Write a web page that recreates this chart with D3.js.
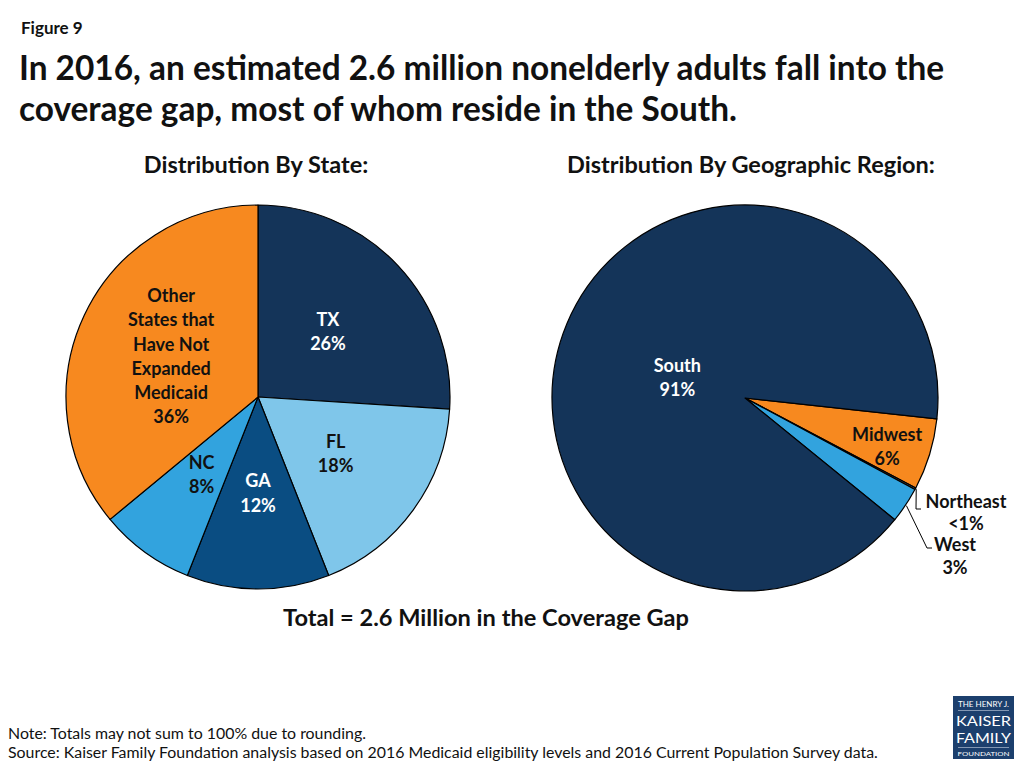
<!DOCTYPE html>
<html>
<head>
<meta charset="utf-8">
<script src="https://cdn.jsdelivr.net/npm/d3@7"></script>
<style>
  html, body { margin: 0; padding: 0; background: #ffffff; }
  svg text { font-family: Lato, "Open Sans", sans-serif; }
</style>
</head>
<body>
<svg id="chart" width="1024" height="768"></svg>
<script>
// ---- data ----
const stateNames  = ["TX", "FL", "GA", "NC", "Other States that Have Not Expanded Medicaid"];
const stateLines  = [["TX"], ["FL"], ["GA"], ["NC"], ["Other", "States that", "Have Not", "Expanded", "Medicaid"]];
const stateValues = [26, 18, 12, 8, 36];
const statePctLabels = ["26%", "18%", "12%", "8%", "36%"];
const stateColors = ["#143459", "#7fc6ea", "#0a4d82", "#32a3de", "#f7891f"];
const stateTextColors = ["#ffffff", "#111111", "#ffffff", "#111111", "#111111"];

const regionNames  = ["Midwest", "Northeast", "West", "South"];
const regionValues = [6, 0.15, 3, 91];
const regionPctLabels = ["6%", "<1%", "3%", "91%"];
const regionColors = ["#f7891f", "#555555", "#32a3de", "#143459"];
const regionTextColors = ["#111111", "#111111", "#111111", "#ffffff"];

const svg = d3.select("#chart");

// ---- titles ----
svg.append("text").attr("x", 21).attr("y", 34)
  .attr("font-size", 17).attr("font-weight", 700).attr("fill", "#111")
  .text("Figure 9");
svg.append("text").attr("x", 19).attr("y", 80)
  .attr("font-size", 33.4).attr("font-weight", 700).attr("fill", "#111")
  .text("In 2016, an estimated 2.6 million nonelderly adults fall into the");
svg.append("text").attr("x", 19).attr("y", 121)
  .attr("font-size", 33.4).attr("font-weight", 700).attr("fill", "#111")
  .text("coverage gap, most of whom reside in the South.");

svg.append("text").attr("x", 256).attr("y", 173).attr("text-anchor", "middle")
  .attr("font-size", 23.5).attr("font-weight", 700).attr("fill", "#111")
  .text("Distribution By State:");
svg.append("text").attr("x", 751).attr("y", 173).attr("text-anchor", "middle")
  .attr("font-size", 23.5).attr("font-weight", 700).attr("fill", "#111")
  .text("Distribution By Geographic Region:");

svg.append("text").attr("x", 486).attr("y", 626).attr("text-anchor", "middle")
  .attr("font-size", 23.6).attr("font-weight", 700).attr("fill", "#111")
  .text("Total = 2.6 Million in the Coverage Gap");

svg.append("text").attr("x", 8).attr("y", 739)
  .attr("font-size", 15.9).attr("fill", "#111")
  .text("Note: Totals may not sum to 100% due to rounding.");
svg.append("text").attr("x", 8).attr("y", 758)
  .attr("font-size", 15.9).attr("fill", "#111")
  .text("Source:  Kaiser Family Foundation analysis based on 2016 Medicaid eligibility levels and 2016 Current Population Survey data.");

// ---- left pie ----
const R1 = 192;
const g1 = svg.append("g").attr("transform", "translate(258,397)");
const pie1 = d3.pie().sort(null).value(d => d)(stateValues);
const arc1 = d3.arc().innerRadius(0).outerRadius(R1);
g1.selectAll("path").data(pie1).join("path")
  .attr("d", arc1)
  .attr("fill", (d, i) => stateColors[i])
  .attr("stroke", "#000").attr("stroke-width", 1.2).attr("stroke-linejoin", "round");

const lineH = 24.2;
const labelFont = 18;
pie1.forEach((d, i) => {
  const [cx, cy] = arc1.centroid(d);
  const lines = stateLines[i].concat([statePctLabels[i]]);
  const y0 = cy - (lines.length - 1) * lineH / 2 + 6.5;
  const t = g1.append("text").attr("text-anchor", "middle")
    .attr("font-size", labelFont).attr("font-weight", 700).attr("fill", stateTextColors[i]);
  lines.forEach((ln, k) => {
    t.append("tspan").attr("x", cx).attr("y", y0 + k * lineH).text(ln);
  });
});

// ---- right pie ----
const R2 = 193;
const cx2 = 745, cy2 = 398;
const g2 = svg.append("g").attr("transform", `translate(${cx2},${cy2})`);
const startDeg = 96.2;
const pie2 = d3.pie().sort(null).value(d => d)
  .startAngle(startDeg * Math.PI / 180)
  .endAngle(startDeg * Math.PI / 180 + 2 * Math.PI)(regionValues);
const arc2 = d3.arc().innerRadius(0).outerRadius(R2);
g2.selectAll("path").data(pie2).join("path")
  .attr("d", arc2)
  .attr("fill", (d, i) => regionColors[i])
  .attr("stroke", "#000").attr("stroke-width", 1.2).attr("stroke-linejoin", "round");

// label placement: fraction of radius for inside labels, plus vertical nudge
const labelRadius = { "Midwest": 0.77, "South": 0.38 };
const labelNudge = { "Midwest": 6, "South": 8 };
const outsideLabel = {
  "Northeast": { x: 921, y: 509, tx: 966, ty: 508, gap: 22 },
  "West": { x: 932, y: 548, tx: 955, ty: 551, gap: 23 }
};

pie2.forEach((d, i) => {
  const name = regionNames[i];
  const mid = (d.startAngle + d.endAngle) / 2;
  if (labelRadius[name] !== undefined) {
    const r = R2 * labelRadius[name];
    const lx = r * Math.sin(mid), ly = -r * Math.cos(mid) + labelNudge[name];
    const t = g2.append("text").attr("text-anchor", "middle")
      .attr("font-size", labelFont).attr("font-weight", 700).attr("fill", regionTextColors[i]);
    t.append("tspan").attr("x", lx).attr("y", ly - 6).text(name);
    t.append("tspan").attr("x", lx).attr("y", ly + 18).text(regionPctLabels[i]);
  } else {
    const o = outsideLabel[name];
    const sx = (R2 + 1) * Math.sin(mid), sy = -(R2 + 1) * Math.cos(mid);
    const ex = o.x - cx2, ey = o.y - cy2;
    g2.append("path")
      .attr("d", `M${sx},${sy} L${ex - 5},${ey} L${ex},${ey}`)
      .attr("fill", "none").attr("stroke", "#000").attr("stroke-width", 1);
    g2.append("text").attr("text-anchor", "middle")
      .attr("font-size", labelFont).attr("font-weight", 700).attr("fill", "#111")
      .attr("x", o.tx - cx2).attr("y", o.ty - cy2).text(name);
    g2.append("text").attr("text-anchor", "middle")
      .attr("font-size", labelFont).attr("font-weight", 700).attr("fill", "#111")
      .attr("x", o.tx - cx2).attr("y", o.ty - cy2 + o.gap).text(regionPctLabels[i]);
  }
});

// ---- logo ----
const logo = svg.append("g").attr("transform", "translate(953,696)");
logo.append("rect").attr("width", 61).attr("height", 63).attr("fill", "#1c3f6d");
const serif = "'Liberation Serif', 'DejaVu Serif', serif";
logo.append("text").attr("x", 30.5).attr("y", 11).attr("text-anchor", "middle")
  .attr("font-family", serif).attr("font-size", 7).attr("fill", "#fff")
  .attr("textLength", 51).attr("lengthAdjust", "spacingAndGlyphs").text("THE HENRY J.");
logo.append("line").attr("x1", 5).attr("x2", 56).attr("y1", 14.5).attr("y2", 14.5)
  .attr("stroke", "#c9d3e2").attr("stroke-width", 0.6);
logo.append("text").attr("x", 30.5).attr("y", 30).attr("text-anchor", "middle")
  .attr("font-family", serif).attr("font-size", 14).attr("fill", "#fff")
  .attr("textLength", 55).attr("lengthAdjust", "spacingAndGlyphs").text("KAISER");
logo.append("text").attr("x", 30.5).attr("y", 47).attr("text-anchor", "middle")
  .attr("font-family", serif).attr("font-size", 14).attr("fill", "#fff")
  .attr("textLength", 55).attr("lengthAdjust", "spacingAndGlyphs").text("FAMILY");
logo.append("line").attr("x1", 5).attr("x2", 56).attr("y1", 51.5).attr("y2", 51.5)
  .attr("stroke", "#c9d3e2").attr("stroke-width", 0.6);
logo.append("text").attr("x", 30.5).attr("y", 60).attr("text-anchor", "middle")
  .attr("font-family", serif).attr("font-size", 6.5).attr("fill", "#fff")
  .attr("textLength", 52).attr("lengthAdjust", "spacingAndGlyphs").text("FOUNDATION");
</script>
</body>
</html>
